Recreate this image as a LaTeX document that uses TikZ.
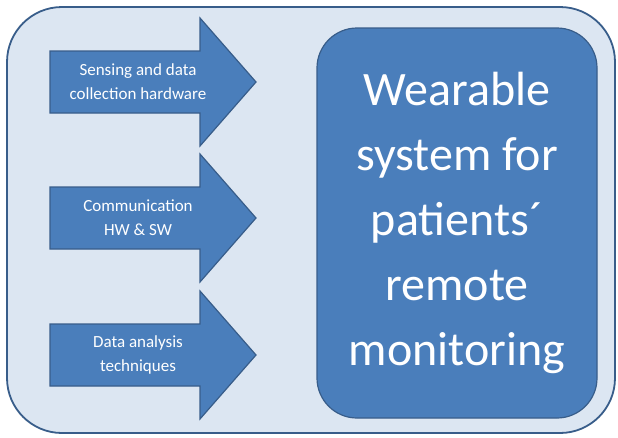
\documentclass[tikz,border=0pt]{standalone}
\usepackage{fontspec}
\setmainfont{Carlito}
\usetikzlibrary{positioning}
\definecolor{paleblue}{HTML}{DCE6F2}
\definecolor{midblue}{HTML}{4A7EBB}
\definecolor{edgeblue}{HTML}{385D8A}

\begin{document}
\begin{tikzpicture}[x=1pt, y=-1pt, line width=1.2pt]
\useasboundingbox (0,0) rectangle (618,437);
\draw[draw=edgeblue, line width=1.8pt, fill=paleblue, rounded corners=55pt] (7,7) rectangle (615,433);
\node[draw=edgeblue, fill=midblue, rounded corners=40pt, minimum width=280pt, minimum height=390pt,
  text=white, font=\fontsize{48}{65}\selectfont, align=center] (sys) at (457,223)
  {Wearable\\system for\\patients´\\remote\\monitoring};
% the three input arrows
\foreach \y/\n/\t in {82/sense/{Sensing and data\\collection hardware},
                      218/comm/{Communication\\HW \& SW},
                      355/anal/{Data analysis\\techniques}} {
  \draw[draw=edgeblue, fill=midblue] (50,\y-31) -- (200,\y-31) -- (200,\y-64) -- (256,\y)
    -- (200,\y+64) -- (200,\y+31) -- (50,\y+31) -- cycle;
  \node[text=white, font=\fontsize{17}{24}\selectfont, align=center] (\n) at (138,\y) {\t};
}
\end{tikzpicture}
\end{document}
